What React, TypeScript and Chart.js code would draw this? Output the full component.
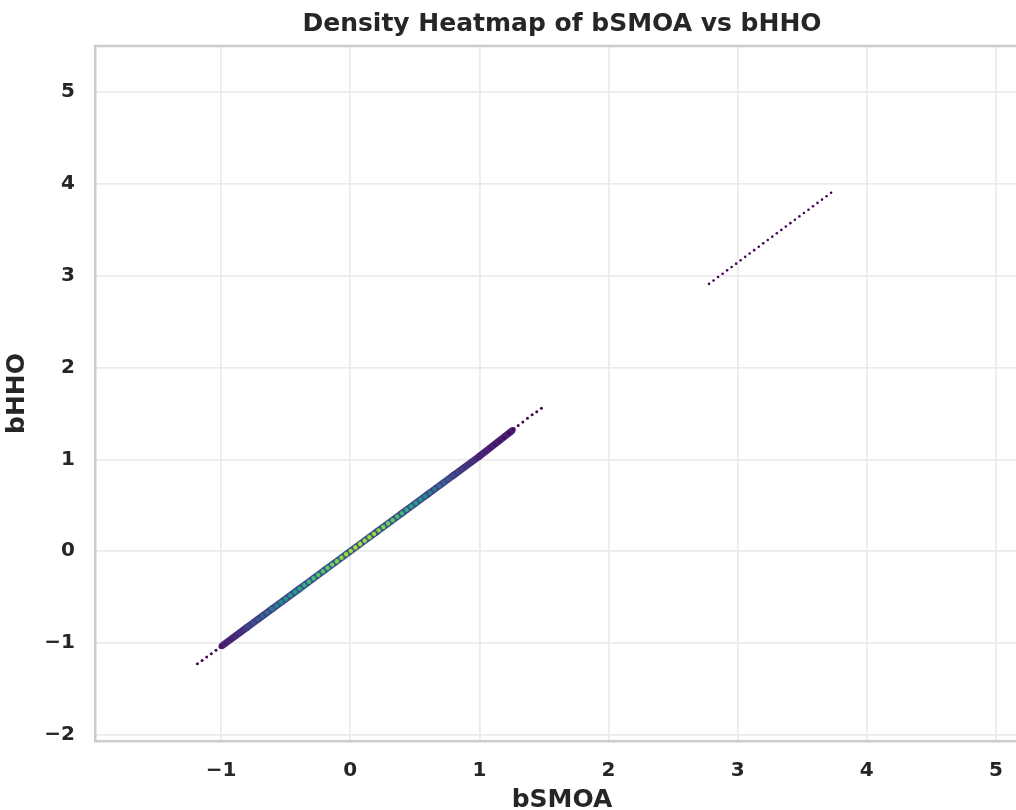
import React, { useEffect, useRef } from "react";
import { Chart, registerables } from "chart.js";

Chart.register(...registerables);

// ---- data ----
const titleText = "Density Heatmap of bSMOA vs bHHO";
const xLabel = "bSMOA";
const yLabel = "bHHO";
const xTickValues = [-1, 0, 1, 2, 3, 4, 5];
const yTickValues = [-2, -1, 0, 1, 2, 3, 4, 5];
const xRange = [-1.977, 5.163]; // visible part of the x axis
const xAxesEnd = 5.256; // the axes continue past the right edge of the picture
const yRange = [-2.065, 5.5];

// main cluster: hex bin centres (centre row) and counts
const mainX = [
  -1.184, -1.148, -1.112, -1.076, -1.04, -1.004, -0.968, -0.932, -0.896, -0.86,
  -0.824, -0.788, -0.752, -0.716, -0.68, -0.644, -0.608, -0.572, -0.536, -0.5,
  -0.464, -0.428, -0.392, -0.356, -0.32, -0.284, -0.248, -0.212, -0.176, -0.14,
  -0.104, -0.068, -0.032, 0.004, 0.04, 0.076, 0.112, 0.148, 0.184, 0.22,
  0.256, 0.292, 0.328, 0.364, 0.4, 0.436, 0.472, 0.508, 0.544, 0.58,
  0.616, 0.652, 0.688, 0.724, 0.76, 0.796, 0.832, 0.868, 0.904, 0.94,
  0.976, 1.012, 1.048, 1.084, 1.12, 1.156, 1.192, 1.228, 1.264, 1.3,
  1.336, 1.372, 1.408, 1.444, 1.48,
];
const mainY = [
  -1.225, -1.188, -1.151, -1.114, -1.076, -1.039, -1.002, -0.965, -0.927, -0.89,
  -0.853, -0.816, -0.778, -0.741, -0.704, -0.667, -0.629, -0.592, -0.555, -0.518,
  -0.48, -0.443, -0.406, -0.368, -0.331, -0.294, -0.257, -0.219, -0.182, -0.145,
  -0.108, -0.07, -0.033, 0.004, 0.041, 0.079, 0.116, 0.153, 0.19, 0.228,
  0.265, 0.302, 0.339, 0.377, 0.414, 0.451, 0.489, 0.526, 0.563, 0.6,
  0.638, 0.675, 0.712, 0.749, 0.787, 0.824, 0.861, 0.898, 0.936, 0.973,
  1.01, 1.047, 1.085, 1.122, 1.159, 1.196, 1.234, 1.285, 1.328, 1.368,
  1.408, 1.448, 1.486, 1.52, 1.556,
];
const mainCount = [
  1, 1, 2, 2, 3, 6, 8, 10, 12, 15,
  18, 22, 26, 30, 34, 38, 42, 46, 50, 53,
  56, 59, 62, 65, 68, 71, 73, 75, 77, 79,
  81, 83, 85, 87, 88, 88, 87, 86, 85, 83,
  81, 78, 75, 72, 68, 64, 60, 56, 52, 48,
  44, 40, 36, 32, 28, 25, 22, 19, 16, 14,
  12, 10, 9, 8, 7, 6, 5, 4, 4, 2,
  2, 1, 1, 1, 1,
];

// main cluster: side rows of hexes (the band around the centre row)
const sideX = [-0.99, -0.8, -0.6, -0.4, -0.2, 0.0, 0.2, 0.4, 0.6, 0.8, 1.0, 1.25];
const sideY = [-1.025, -0.828, -0.621, -0.414, -0.207, 0.0, 0.207, 0.414, 0.621, 0.828, 1.035, 1.31];
const sideCount = [9, 16, 22, 26, 28, 29, 28, 26, 23, 19, 13, 7];

// upper isolated cluster
const upperX = [
  2.778, 2.813, 2.848, 2.883, 2.918, 2.953, 2.988, 3.023, 3.058, 3.093,
  3.128, 3.163, 3.198, 3.233, 3.268, 3.303, 3.338, 3.373, 3.408, 3.443,
  3.478, 3.513, 3.548, 3.583, 3.618, 3.653, 3.688, 3.723,
];
const upperY = [
  2.911, 2.948, 2.985, 3.021, 3.058, 3.095, 3.131, 3.168, 3.205, 3.241,
  3.278, 3.315, 3.352, 3.388, 3.425, 3.462, 3.498, 3.535, 3.572, 3.608,
  3.645, 3.682, 3.718, 3.755, 3.792, 3.828, 3.865, 3.902,
];
const upperCount = [
  1, 1, 1, 1, 2, 1, 2, 2, 2, 2,
  2, 2, 2, 3, 2, 2, 2, 3, 2, 2,
  2, 2, 2, 1, 2, 1, 1, 1,
];
const COUNT_MIN = 1;
const COUNT_MAX = 100;

// ---- colour map ----
const VIRIDIS = [
  "#440154", "#482475", "#414487", "#355f8d", "#2a788e", "#21918c",
  "#22a884", "#44bf70", "#7ad151", "#bddf26", "#fde725",
];
function hexToRgb(h: string) {
  const n = parseInt(h.slice(1), 16);
  return [(n >> 16) & 255, (n >> 8) & 255, n & 255];
}
function viridis(count: number) {
  let t = (count - COUNT_MIN) / (COUNT_MAX - COUNT_MIN);
  t = Math.max(0, Math.min(1, t));
  const p = t * (VIRIDIS.length - 1);
  const i = Math.min(Math.floor(p), VIRIDIS.length - 2);
  const f = p - i;
  const a = hexToRgb(VIRIDIS[i]);
  const b = hexToRgb(VIRIDIS[i + 1]);
  const c = a.map((v, k) => Math.round(v + (b[k] - v) * f));
  return `rgb(${c[0]},${c[1]},${c[2]})`;
}

const TEXT = "#262626";
const FONT = "'DejaVu Sans', sans-serif";
const FRAME = "#cccccc";
const GRID = "#ebebeb";

const fmt = (v: number) => (v < 0 ? "\u2212" + Math.abs(v) : String(v));

// top frame line + title and x label centred over the full axes (which run past the picture's edge)
const framePlugin = {
  id: "framePlugin",
  afterDraw(chart: any) {
    const { ctx, chartArea } = chart;
    const xs = chart.scales.x;
    ctx.save();
    ctx.strokeStyle = FRAME;
    ctx.lineWidth = 2.5;
    ctx.beginPath();
    ctx.moveTo(chartArea.left - 1.25, chartArea.top);
    ctx.lineTo(chartArea.right, chartArea.top);
    ctx.stroke();
    const cx = (chartArea.left + xs.getPixelForValue(xAxesEnd)) / 2;
    ctx.fillStyle = TEXT;
    ctx.textAlign = "center";
    ctx.textBaseline = "middle";
    ctx.font = `bold 25px ${FONT}`;
    ctx.fillText(titleText, cx, chartArea.top / 2 + 1);
    ctx.fillText(xLabel, cx, chart.height - 10);
    ctx.restore();
  },
};

// the canvas is a little wider than the picture, so the plot area reaches the right edge
const CANVAS_W = 1021;
const CANVAS_H = 810;

export default function App() {
  const ref = useRef<HTMLCanvasElement>(null);
  useEffect(() => {
    if (!ref.current) return;
    const mainPts = mainX.map((x, i) => ({ x, y: mainY[i] }));
    const upperPts = upperX.map((x, i) => ({ x, y: upperY[i] }));
    const sidePts = sideX.map((x, i) => ({ x, y: sideY[i] }));
    const chart = new Chart(ref.current, {
      type: "scatter",
      data: {
        datasets: [
          {
            label: "upper",
            data: upperPts,
            backgroundColor: upperCount.map(viridis),
            pointRadius: 1.3,
            pointBorderWidth: 0,
            order: 0,
          } as any,
          {
            label: "centre",
            data: mainPts,
            backgroundColor: mainCount.map(viridis),
            pointRadius: (c: any) => (mainCount[c.dataIndex] <= 3 ? 1.5 : 2.2),
            pointBorderWidth: 0,
            order: 1,
          } as any,
          {
            label: "band",
            type: "line",
            data: sidePts,
            showLine: true,
            borderWidth: 7,
            borderCapStyle: "round",
            borderColor: viridis(sideCount[5]),
            pointRadius: 0,
            segment: {
              borderColor: (ctx: any) =>
                viridis((sideCount[ctx.p0DataIndex] + sideCount[ctx.p1DataIndex]) / 2),
            },
            order: 2,
          } as any,
        ],
      },
      options: {
        responsive: false,
        animation: false,
        devicePixelRatio: 1,
        layout: { padding: { top: 46, left: 0, right: 0, bottom: 0 } },
        plugins: {
          legend: { display: false },
          tooltip: { enabled: false },
          title: { display: false },
        },
        scales: {
          x: {
            type: "linear",
            min: xRange[0],
            max: xRange[1],
            afterBuildTicks: (s: any) => {
              s.ticks = xTickValues.map((v) => ({ value: v }));
            },
            afterFit: (s: any) => {
              s.height = 69;
              s.paddingLeft = 0;
              s.paddingRight = 0;
            },
            ticks: {
              color: TEXT,
              font: { family: FONT, size: 20, weight: "bold" },
              padding: 18,
              callback: (v: any) => fmt(Number(v)),
              maxRotation: 0,
            },
            grid: { color: GRID, lineWidth: 1.8, drawTicks: false },
            border: { color: FRAME, width: 2.5 },
            title: { display: false },
          },
          y: {
            type: "linear",
            min: yRange[0],
            max: yRange[1],
            afterBuildTicks: (s: any) => {
              s.ticks = yTickValues.map((v) => ({ value: v }));
            },
            afterFit: (s: any) => {
              s.width = 95;
              s.paddingTop = 0;
              s.paddingBottom = 0;
            },
            ticks: {
              color: TEXT,
              font: { family: FONT, size: 20, weight: "bold" },
              padding: 20,
              callback: (v: any) => fmt(Number(v)),
            },
            grid: { color: GRID, lineWidth: 1.8, drawTicks: false },
            border: { color: FRAME, width: 2.5 },
            title: {
              display: true,
              text: yLabel,
              color: TEXT,
              font: { family: FONT, size: 25, weight: "bold", lineHeight: 1 },
              padding: { top: 5, bottom: 0 },
            },
          },
        },
      },
      plugins: [framePlugin],
    } as any);
    return () => chart.destroy();
  }, []);
  return (
    <div
      style={{
        position: "absolute",
        left: 0,
        top: 0,
        width: 1016,
        height: 810,
        overflow: "hidden",
        background: "#fff",
      }}
    >
      <canvas ref={ref} width={CANVAS_W} height={CANVAS_H} style={{ display: "block" }} />
    </div>
  );
}
